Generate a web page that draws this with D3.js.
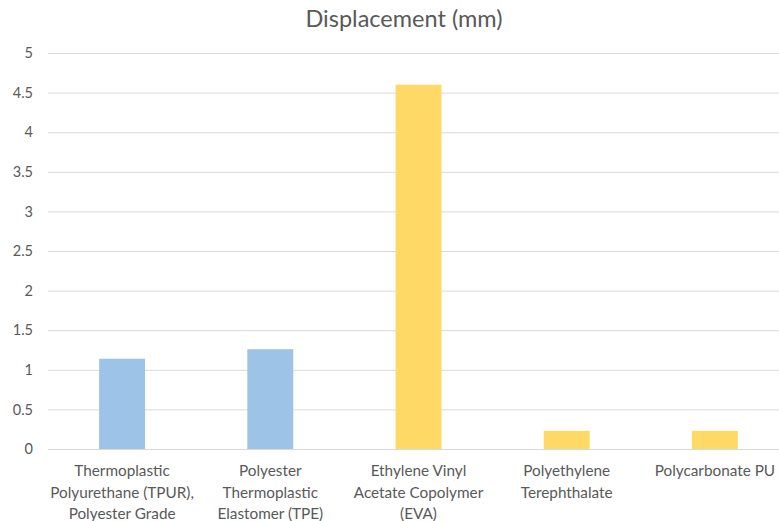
<!DOCTYPE html>
<html><head><meta charset="utf-8">
<script src="https://cdn.jsdelivr.net/npm/d3@7"></script>
<style>body{margin:0;background:#fff}svg{display:block}</style>
</head><body>
<script>
const categories = [
  ["Thermoplastic","Polyurethane (TPUR),","Polyester Grade"],
  ["Polyester","Thermoplastic","Elastomer (TPE)"],
  ["Ethylene Vinyl","Acetate Copolymer","(EVA)"],
  ["Polyethylene","Terephthalate"],
  ["Polycarbonate PU"]
];
const values = [1.14, 1.26, 4.6, 0.23, 0.23];
const barColors = ["#9DC3E6","#9DC3E6","#FFD966","#FFD966","#FFD966"];
const yTicks = [0,0.5,1,1.5,2,2.5,3,3.5,4,4.5,5];
const title = "Displacement (mm)";

(function(){
const W=779,H=521;
const font = "Lato, 'Open Sans', sans-serif";
const svg=d3.select("body").append("svg").attr("width",W).attr("height",H);
const pL=48, pR=789, pT=53, pB=449;
const x=d3.scaleBand().domain(d3.range(categories.length)).range([pL,pR]).paddingInner(0.69).paddingOuter(0.345);
const y=d3.scaleLinear().domain([0,5]).range([pB,pT]);

svg.append("g").selectAll("line").data(yTicks).join("line")
  .attr("x1",pL).attr("x2",W).attr("y1",d=>y(d)+0.5).attr("y2",d=>y(d)+0.5)
  .attr("stroke","#D9D9D9").attr("stroke-width",1);

const yAxis=d3.axisLeft(y).tickValues(yTicks).tickSize(0).tickPadding(0).tickFormat(d=>String(d));
const ga=svg.append("g").attr("transform",`translate(33,0)`).call(yAxis);
ga.select(".domain").remove();
ga.selectAll("text").attr("fill","#595959").style("font-family",font).style("font-size","14.5px");

svg.append("g").selectAll("rect").data(values).join("rect")
  .attr("x",(d,i)=>x(i)).attr("width",x.bandwidth())
  .attr("y",d=>y(d)).attr("height",d=>y(0)-y(d))
  .attr("fill",(d,i)=>barColors[i]);

const lab=svg.append("g").selectAll("text").data(categories).join("text")
  .attr("x",(d,i)=>x(i)+x.bandwidth()/2).attr("y",476)
  .attr("text-anchor","middle").attr("fill","#595959")
  .style("font-family",font).style("font-size","15.3px");
lab.selectAll("tspan").data(d=>d).join("tspan")
  .attr("x",function(){return d3.select(this.parentNode).attr("x");})
  .attr("dy",(d,i)=>i===0?0:21.5).text(d=>d);

svg.append("text").attr("x",404).attr("y",27).attr("text-anchor","middle")
  .attr("fill","#595959").style("font-family",font).style("font-size","23.5px").text(title);
})();
</script>
</body></html>
